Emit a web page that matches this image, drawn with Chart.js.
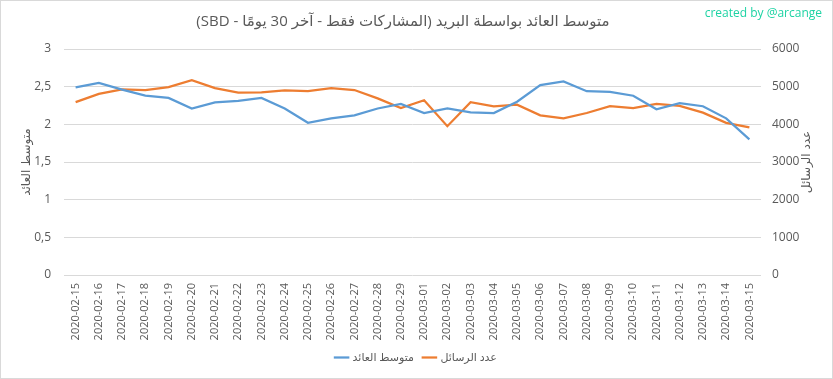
<!DOCTYPE html>
<html><head><meta charset="utf-8">
<script src="https://cdn.jsdelivr.net/npm/chart.js@4/dist/chart.umd.min.js"></script>
<style>html,body{margin:0;padding:0;background:#fff;}#wrap{width:833px;height:379px;position:relative;}</style>
</head><body><div id="wrap"><canvas id="c" width="833" height="379"></canvas></div>
<script>
const categories = ["2020-02-15","2020-02-16","2020-02-17","2020-02-18","2020-02-19","2020-02-20","2020-02-21","2020-02-22","2020-02-23","2020-02-24","2020-02-25","2020-02-26","2020-02-27","2020-02-28","2020-02-29","2020-03-01","2020-03-02","2020-03-03","2020-03-04","2020-03-05","2020-03-06","2020-03-07","2020-03-08","2020-03-09","2020-03-10","2020-03-11","2020-03-12","2020-03-13","2020-03-14","2020-03-15"];
const avgReward = [2.49,2.55,2.46,2.38,2.35,2.21,2.29,2.31,2.35,2.21,2.02,2.08,2.12,2.21,2.27,2.15,2.21,2.16,2.15,2.30,2.52,2.57,2.44,2.43,2.38,2.20,2.28,2.24,2.08,1.80];
const postCount = [4590,4810,4930,4910,4990,5170,4960,4840,4850,4900,4880,4960,4910,4690,4430,4640,3950,4590,4480,4520,4240,4160,4300,4480,4430,4540,4490,4310,4040,3920];
const titleText = "متوسط العائد بواسطة البريد (المشاركات فقط - آخر 30 يومًا - SBD)";
const leftAxisTitle = "متوسط العائد";
const rightAxisTitle = "عدد الرسائل";
const creditText = "created by @arcange";
const seriesNames = ["متوسط العائد", "عدد الرسائل"];

const FONT = "'Open Sans','DejaVu Sans',sans-serif";
const GRAY = "#595959";

const extras = {
  id: 'extras',
  afterDraw(chart) {
    const ctx = chart.ctx;
    const ca = chart.chartArea;
    ctx.save();
    // border
    ctx.strokeStyle = '#d9d9d9';
    ctx.lineWidth = 1;
    ctx.strokeRect(0.5, 0.5, chart.width - 1, chart.height - 1);
    // title (RTL)
    ctx.save();
    ctx.direction = 'rtl';
    ctx.fillStyle = GRAY;
    ctx.font = "15px " + FONT;
    ctx.textAlign = 'center';
    ctx.textBaseline = 'middle';
    ctx.fillText(titleText, 403, 22);
    ctx.restore();
    // credit
    ctx.fillStyle = '#1ed3a4';
    ctx.font = "12px " + FONT;
    ctx.textAlign = 'right';
    ctx.textBaseline = 'middle';
    ctx.fillText(creditText, 822, 14);
    // axis titles
    ctx.fillStyle = GRAY;
    ctx.font = "12px 'DejaVu Sans',sans-serif";
    ctx.textAlign = 'center';
    ctx.textBaseline = 'middle';
    ctx.direction = 'rtl';
    const cy = (ca.top + ca.bottom) / 2;
    ctx.save(); ctx.translate(27, cy); ctx.rotate(-Math.PI/2); ctx.fillText(leftAxisTitle, 0, 0); ctx.restore();
    ctx.save(); ctx.translate(807, cy); ctx.rotate(-Math.PI/2); ctx.fillText(rightAxisTitle, 0, 0); ctx.restore();
    ctx.restore();
  }
};

new Chart(document.getElementById('c'), {
  type: 'line',
  data: {
    labels: categories,
    datasets: [
      { label: seriesNames[0], data: avgReward, yAxisID: 'y', borderColor: '#5b9bd5', backgroundColor: '#5b9bd5', borderWidth: 2.25, pointRadius: 0, tension: 0 },
      { label: seriesNames[1], data: postCount, yAxisID: 'y1', borderColor: '#ed7d31', backgroundColor: '#ed7d31', borderWidth: 2.25, pointRadius: 0, tension: 0 }
    ]
  },
  options: {
    responsive: false,
    animation: false,
    layout: { padding: { top: 49, bottom: 6, left: 0, right: 0 } },
    plugins: {
      title: { display: false },
      legend: { position: 'bottom', labels: { usePointStyle: true, pointStyle: 'line', boxWidth: 26, color: GRAY, font: { size: 11, family: FONT }, padding: 10 } },
      tooltip: { enabled: false }
    },
    scales: {
      x: {
        offset: true,
        grid: { display: false, drawTicks: false },
        border: { display: false },
        ticks: { color: GRAY, font: { size: 11, family: FONT }, minRotation: 90, maxRotation: 90, padding: 8, autoSkip: false },
        afterFit(s) { s.height = 67; }
      },
      y: {
        position: 'left', min: 0, max: 3,
        grid: { color: '#d9d9d9', drawTicks: false },
        border: { display: false },
        ticks: { stepSize: 0.5, color: GRAY, font: { size: 12, family: FONT }, padding: 13, callback: v => String(v).replace('.', ',') },
        afterFit(s) { s.width = 64; }
      },
      y1: {
        position: 'right', min: 0, max: 6000,
        grid: { display: false, drawTicks: false },
        border: { display: false },
        ticks: { stepSize: 1000, color: GRAY, font: { size: 12, family: FONT }, padding: 11, callback: v => String(v) },
        afterFit(s) { s.width = 72; }
      }
    }
  },
  plugins: [extras]
});
</script></body></html>
